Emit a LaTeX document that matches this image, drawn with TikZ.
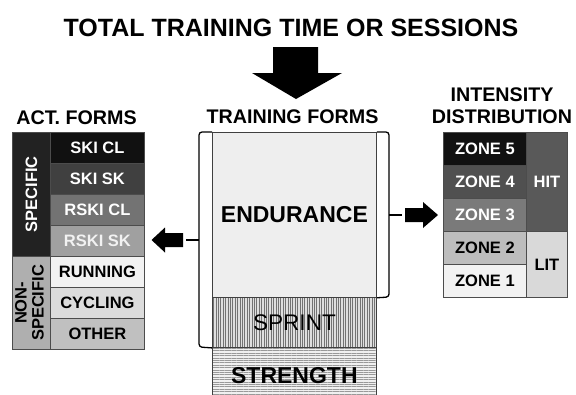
\documentclass[tikz,border=0pt]{standalone}
\usepackage{fontspec}
\setmainfont{Liberation Sans}
\usetikzlibrary{patterns.meta}
\newcommand\fsz[2]{\fontsize{#1}{#2}\selectfont}
\definecolor{cA}{HTML}{111111}
\definecolor{cB}{HTML}{404040}
\definecolor{cC}{HTML}{737373}
\definecolor{cD}{HTML}{A0A0A0}
\definecolor{cE}{HTML}{F2F2F2}
\definecolor{cF}{HTML}{DCDCDC}
\definecolor{cG}{HTML}{C0C0C0}
\definecolor{cSpec}{HTML}{222222}
\definecolor{cNon}{HTML}{AFAFAF}
\definecolor{z5}{HTML}{111111}
\definecolor{z4}{HTML}{505050}
\definecolor{z3}{HTML}{7A7A7A}
\definecolor{z2}{HTML}{BDBDBD}
\definecolor{z1}{HTML}{F2F2F2}
\definecolor{cHit}{HTML}{595959}
\definecolor{cLit}{HTML}{D9D9D9}
\definecolor{cEnd}{HTML}{EEEEEE}
\begin{document}
\begin{tikzpicture}[x=1pt,y=-1pt,
  cell/.style={draw=black!70, line width=0.8pt, inner sep=0pt, anchor=north west,
    font=\fsz{16.5}{19}\bfseries},
  head/.style={font=\fsz{19.7}{22}\bfseries, align=center, inner sep=0pt},
  big/.style={draw=black!75, line width=0.8pt, inner sep=0pt, anchor=north west,
    minimum width=164pt},
  brk/.style={line width=1.3pt, rounded corners=3pt},
  conn/.style={line width=1.3pt},
  blockarrow/.style={fill=black}]
\useasboundingbox (0,0) rectangle (576,394);

% title and down arrow
\node[font=\fsz{25}{28}\bfseries, inner sep=0pt] (title) at (291,28) {TOTAL TRAINING TIME OR SESSIONS};
\fill[blockarrow] (273,47) -- (318,47) -- (318,73) -- (342,73) -- (296,99) -- (252,73) -- (273,73) -- cycle;

% headings
\node[head] (hact) at (76.5,118) {ACT. FORMS};
\node[head] (htr) at (292.5,116.5) {TRAINING FORMS};
\node[head] (hint) at (502,106) {INTENSITY\\DISTRIBUTION};

% activity forms
\node[cell, fill=cSpec, text=white, minimum width=38pt, minimum height=124pt] (spec) at (12,132) {\rotatebox{90}{SPECIFIC}};
\node[cell, fill=cNon, minimum width=38pt, minimum height=93pt] (nonspec) at (12,256)
  {\rotatebox{90}{\begin{tabular}{@{}c@{}}NON-\\[-2pt]SPECIFIC\end{tabular}}};
\node[cell, fill=cA, text=white, minimum width=94pt, minimum height=31pt] (skicl) at (50,132) {SKI CL};
\node[cell, fill=cB, text=white, minimum width=94pt, minimum height=31pt] (skisk) at (50,163) {SKI SK};
\node[cell, fill=cC, text=white, minimum width=94pt, minimum height=31pt] (rskicl) at (50,194) {RSKI CL};
\node[cell, fill=cD, text=cE, minimum width=94pt, minimum height=31pt] (rskisk) at (50,225) {RSKI SK};
\node[cell, fill=cE, minimum width=94pt, minimum height=31pt] (running) at (50,256) {RUNNING};
\node[cell, fill=cF, minimum width=94pt, minimum height=31pt] (cycling) at (50,287) {CYCLING};
\node[cell, fill=cG, minimum width=94pt, minimum height=31pt] (other) at (50,318) {OTHER};

% training forms
\node[big, fill=cEnd, minimum height=165pt, font=\fsz{23}{26}\bfseries] (endu) at (212,132) {ENDURANCE};
\node[big, minimum height=50pt, font=\fsz{22.6}{26},
  preaction={fill=gray!25},
  pattern={Lines[angle=90,distance=2.4pt,line width=0.9pt]}, pattern color=black!55] (sprint) at (212,297) {SPRINT};
\node[big, minimum height=56pt, font=\fsz{23}{26}\bfseries,
  preaction={fill=gray!12},
  pattern={Lines[angle=0,distance=2.4pt,line width=0.8pt]}, pattern color=black!40] (strength) at (212,347) {STRENGTH};

% intensity distribution
\node[cell, fill=z5, text=white, minimum width=83pt, minimum height=33pt] (zone5) at (443,132) {ZONE 5};
\node[cell, fill=z4, text=white, minimum width=83pt, minimum height=33pt] (zone4) at (443,165) {ZONE 4};
\node[cell, fill=z3, text=white, minimum width=83pt, minimum height=33pt] (zone3) at (443,198) {ZONE 3};
\node[cell, fill=z2, minimum width=83pt, minimum height=33pt] (zone2) at (443,231) {ZONE 2};
\node[cell, fill=z1, minimum width=83pt, minimum height=33pt] (zone1) at (443,264) {ZONE 1};
\node[cell, fill=cHit, text=white, minimum width=41pt, minimum height=99pt] (hit) at (526,132) {HIT};
\node[cell, fill=cLit, minimum width=41pt, minimum height=66pt] (lit) at (526,231) {LIT};

% brackets
\draw[brk] (endu.north west) -- (199,132) -- (199,347) -- (sprint.south west);
\draw[brk] (endu.north east) -- (389,132) -- (389,297) -- (endu.south east);
\coordinate (ltip) at (199,240);
\coordinate (lend) at (186,240);
\coordinate (rtip) at (389,215);
\coordinate (rend) at (402,215);
\draw[conn] (ltip) -- (lend);
\draw[conn] (rtip) -- (rend);

% block arrows
\fill[blockarrow] (151.5,240) -- (165,227.5) -- (165,233) -- (183,233) -- (183,247) -- (165,247) -- (165,252.5) -- cycle;
\fill[blockarrow] (438,215) -- (423,202) -- (423,208) -- (405,208) -- (405,222) -- (423,222) -- (423,228) -- cycle;
\end{tikzpicture}
\end{document}
